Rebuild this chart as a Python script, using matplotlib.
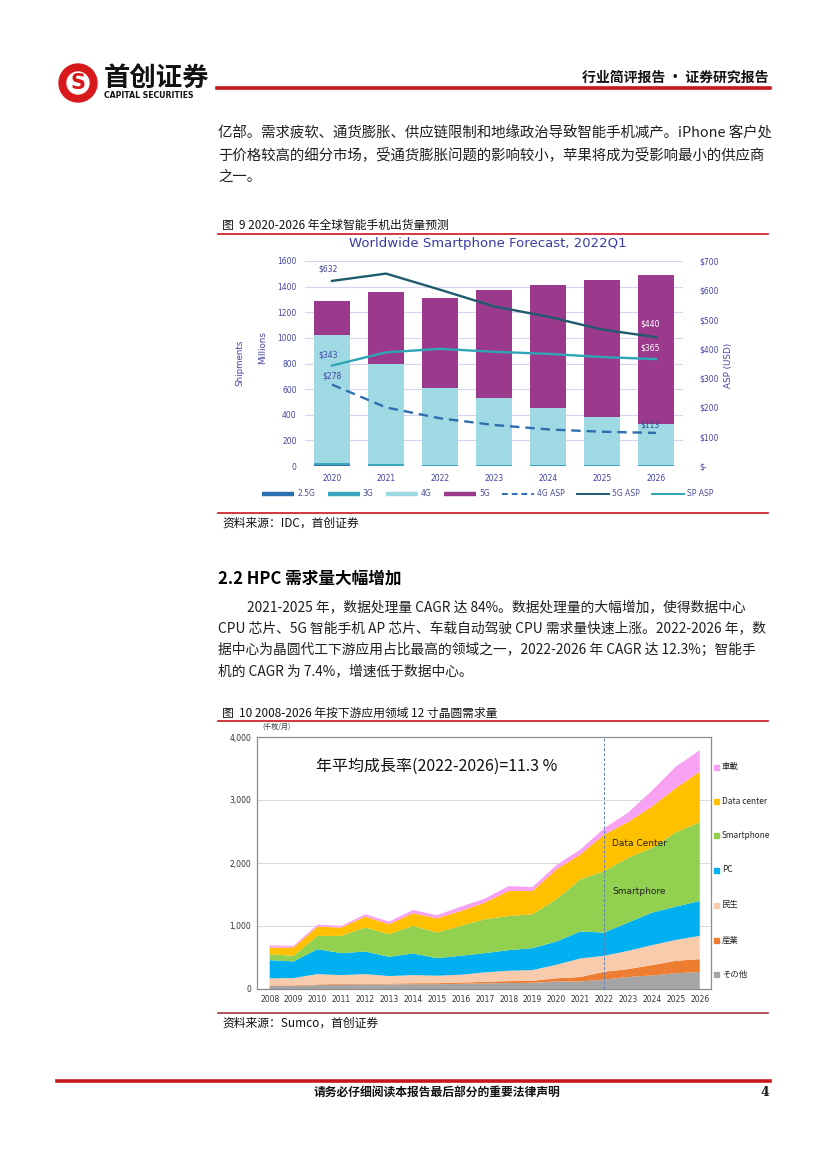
import matplotlib
matplotlib.use('Agg')
import matplotlib.pyplot as plt
from matplotlib.patches import Rectangle, Ellipse
from matplotlib.lines import Line2D

W, H = 827, 1169
CJK = ['Noto Sans CJK SC', 'DejaVu Sans']
JP = ['Noto Sans CJK JP', 'DejaVu Sans']
plt.rcParams['font.family'] = CJK

# ---------------- chart 1 data (IDC) ----------------
years1 = ['2020', '2021', '2022', '2023', '2024', '2025', '2026']
ship_25g = [5, 3, 2, 1, 1, 1, 1]
ship_3g = [18, 12, 9, 6, 5, 4, 4]
ship_4g = [997, 782, 596, 521, 449, 374, 324]
ship_5g = [264, 560, 703, 845, 957, 1074, 1163]
asp_4g = [278, 200, 163, 140, 125, 117, 113]
asp_5g = [632, 657, 602, 545, 510, 466, 440]
asp_sp = [343, 388, 400, 390, 383, 372, 365]
ship_ticks = [0, 200, 400, 600, 800, 1000, 1200, 1400, 1600]
asp_ticks = [0, 100, 200, 300, 400, 500, 600, 700]
asp_ticklabels = ['$-', '$100', '$200', '$300', '$400', '$500', '$600', '$700']
legend1 = ['2.5G', '3G', '4G', '5G', '4G ASP', '5G ASP', 'SP ASP']

# ---------------- chart 2 data (Sumco) ----------------
years2 = list(range(2008, 2027))
w_other = [50, 50, 62, 70, 72, 72, 76, 76, 82, 90, 95, 98, 120, 120, 150, 190, 215, 250, 270]
w_industry = [8, 8, 10, 12, 14, 14, 16, 16, 20, 24, 30, 32, 50, 70, 124, 126, 164, 198, 204]
w_consumer = [111, 116, 165, 139, 151, 119, 129, 119, 125, 150, 165, 170, 215, 295, 253, 290, 317, 332, 369]
w_pc = [289, 263, 395, 348, 358, 306, 343, 279, 300, 305, 327, 348, 369, 427, 369, 448, 516, 527, 554]
w_phone = [95, 90, 211, 274, 380, 359, 437, 406, 474, 538, 542, 538, 669, 827, 975, 1028, 1028, 1180, 1249]
w_dc = [106, 132, 147, 132, 174, 158, 201, 226, 237, 263, 396, 369, 474, 395, 580, 568, 657, 703, 804]
w_auto = [31, 26, 32, 26, 37, 42, 52, 48, 69, 63, 79, 63, 69, 79, 99, 150, 253, 340, 340]
labels2 = ['その他', '産業', '民生', 'PC', 'Smartphone', 'Data center', '車載']
wafer_ticks = [0, 1000, 2000, 3000, 4000]
wafer_ticklabels = ['0', '1,000', '2,000', '3,000', '4,000']

fig = plt.figure(figsize=(8.27, 11.69), dpi=100)


def fx(x):
    return x / W


def fy(y):
    return 1 - y / H


def hline(x0, x1, y, lw, color):
    fig.add_artist(Line2D([fx(x0), fx(x1)], [fy(y), fy(y)], lw=lw, color=color,
                          transform=fig.transFigure))


def txt(x, y, s, **kw):
    kw.setdefault('va', 'center')
    kw.setdefault('family', CJK)
    fig.text(fx(x), fy(y), s, **kw)


RED = '#C8161D'
BODY = '#1e1e1e'

# ---------------- header ----------------
fig.add_artist(Ellipse((fx(78), fy(83)), 38 / W, 38 / H, color='#D7191C', transform=fig.transFigure))
fig.add_artist(Ellipse((fx(78), fy(83)), 22 / W, 22 / H, color='white', transform=fig.transFigure))
txt(78, 83, 'S', ha='center', fontsize=15, weight='bold', color='#D7191C', family=['DejaVu Sans'])
txt(104, 78, '首创证券', fontsize=19, weight='bold', color='#111111')
txt(104, 95, 'CAPITAL SECURITIES', fontsize=5.6, weight='bold', color='#111111', family=['DejaVu Sans'])
hline(217, 770, 88, 2.6, RED)
txt(768, 78, '行业简评报告 · 证券研究报告', ha='right', fontsize=10, weight='bold', color='#111111')

# ---------------- paragraph 1 ----------------
para1 = ['亿部。需求疲软、通货膨胀、供应链限制和地缘政治导致智能手机减产。iPhone 客户处',
         '于价格较高的细分市场，受通货膨胀问题的影响较小，苹果将成为受影响最小的供应商',
         '之一。']
for i, line in enumerate(para1):
    txt(218, 133 + 22 * i, line, fontsize=10.4, color=BODY)

# ---------------- caption 1 ----------------
txt(222, 225, '图  9 2020-2026 年全球智能手机出货量预测', fontsize=8.5, color='#111111')
hline(218, 768, 234, 1.2, RED)

# ---------------- chart 1 ----------------
IND = '#4343A3'
ax = fig.add_axes([fx(305), fy(466), 378 / W, 205 / H])
x1 = list(range(len(years1)))
b1 = ship_25g
b2 = [a + b for a, b in zip(b1, ship_3g)]
b3 = [a + b for a, b in zip(b2, ship_4g)]
ax.bar(x1, ship_25g, width=0.65, color='#2E6FB0', zorder=2)
ax.bar(x1, ship_3g, width=0.65, bottom=b1, color='#3AA7BE', zorder=2)
ax.bar(x1, ship_4g, width=0.65, bottom=b2, color='#9FD9E4', zorder=2)
ax.bar(x1, ship_5g, width=0.65, bottom=b3, color='#9B3A8C', zorder=2)
ax.set_xlim(-0.5, 6.5)
ax.set_ylim(0, 1600)
ax.set_yticks(ship_ticks)
ax.set_yticklabels([str(t) for t in ship_ticks])
ax.set_xticks(x1)
ax.set_xticklabels(years1)
ax.yaxis.grid(True, color='#D4D4EE', lw=0.8)
ax.set_axisbelow(True)
for s in ax.spines.values():
    s.set_visible(False)
ax.tick_params(length=0, labelsize=5.5, colors=IND, pad=6)
for t in ax.get_xticklabels() + ax.get_yticklabels():
    t.set_family(['DejaVu Sans'])

ax2 = ax.twinx()
ax2.set_ylim(0, 700)
ax2.set_yticks(asp_ticks)
ax2.set_yticklabels(asp_ticklabels)
for s in ax2.spines.values():
    s.set_visible(False)
ax2.tick_params(length=0, labelsize=5.5, colors=IND, pad=12)
for t in ax2.get_yticklabels():
    t.set_family(['DejaVu Sans'])
l4, = ax2.plot(x1, asp_4g, color='#2C6EAE', lw=1.7, dashes=(4, 2.5), zorder=3)
l5, = ax2.plot(x1, asp_5g, color='#1F5B6C', lw=1.7, zorder=3)
lsp, = ax2.plot(x1, asp_sp, color='#2FA5B7', lw=1.7, zorder=3)

ann = dict(textcoords='offset points', ha='center', fontsize=5.5, family=['DejaVu Sans'])
ax2.annotate(f'${asp_5g[0]}', xy=(0, asp_5g[0]), xytext=(-3, 7), color=IND, **ann)
ax2.annotate(f'${asp_sp[0]}', xy=(0, asp_sp[0]), xytext=(-3, 6), color=IND, **ann)
ax2.annotate(f'${asp_4g[0]}', xy=(0, asp_4g[0]), xytext=(0, 4.5), color=IND, **ann)
ax2.annotate(f'${asp_5g[-1]}', xy=(6, asp_5g[-1]), xytext=(-4, 7.5), color='white', **ann)
ax2.annotate(f'${asp_sp[-1]}', xy=(6, asp_sp[-1]), xytext=(-4, 6), color='white', **ann)
ax2.annotate(f'${asp_4g[-1]}', xy=(6, asp_4g[-1]), xytext=(-4, 4), color='#2C4F8E', **ann)

fig.text(fx(240), fy(363), 'Shipments', rotation=90, ha='center', va='center', fontsize=6.3,
         color=IND, family=['DejaVu Sans'])
fig.text(fx(263), fy(348), 'Millions', rotation=90, ha='center', va='center', fontsize=6.3,
         color=IND, family=['DejaVu Sans'])
fig.text(fx(729), fy(365), 'ASP (USD)', rotation=90, ha='center', va='center', fontsize=6.3,
         color=IND, family=['DejaVu Sans'])
fig.text(fx(488), fy(243), 'Worldwide Smartphone Forecast, 2022Q1', ha='center', va='center',
         fontsize=9.5, color='#3A3AA6', family=['DejaVu Sans'])

handles = [Line2D([], [], color='#2E6FB0', lw=3.2, solid_capstyle='butt'),
           Line2D([], [], color='#3AA7BE', lw=3.2, solid_capstyle='butt'),
           Line2D([], [], color='#9FD9E4', lw=3.2, solid_capstyle='butt'),
           Line2D([], [], color='#9B3A8C', lw=3.2, solid_capstyle='butt'),
           Line2D([], [], color='#2C6EAE', lw=1.4, dashes=(3, 2)),
           Line2D([], [], color='#1F5B6C', lw=1.4),
           Line2D([], [], color='#2FA5B7', lw=1.4)]
leg = fig.legend(handles, legend1, loc='center', bbox_to_anchor=(fx(488), fy(494)), ncol=7,
                 frameon=False, fontsize=5.5, handlelength=4.2, columnspacing=1.6,
                 handletextpad=0.4, labelcolor='#4a4a9a', prop={'family': ['DejaVu Sans'], 'size': 5.5})

# ---------------- source 1 ----------------
hline(218, 768, 513, 1.2, RED)
txt(222, 523, '资料来源：IDC，首创证券', fontsize=8.5, color='#111111', style='italic')

# ---------------- heading + paragraph 2 ----------------
txt(218, 579, '2.2 HPC 需求量大幅增加', fontsize=12, weight='bold', color='#000000')
para2 = ['2021-2025 年，数据处理量 CAGR 达 84%。数据处理量的大幅增加，使得数据中心',
         'CPU 芯片、5G 智能手机 AP 芯片、车载自动驾驶 CPU 需求量快速上涨。2022-2026 年，数',
         '据中心为晶圆代工下游应用占比最高的领域之一，2022-2026 年 CAGR 达 12.3%；智能手',
         '机的 CAGR 为 7.4%，增速低于数据中心。']
for i, line in enumerate(para2):
    txt(247 if i == 0 else 218, 607 + 21.5 * i, line, fontsize=9.9, color=BODY)

# ---------------- caption 2 ----------------
txt(222, 713, '图  10 2008-2026 年按下游应用领域 12 寸晶圆需求量', fontsize=8.5, color='#111111')
hline(218, 768, 721, 1.2, RED)

# ---------------- chart 2 ----------------
colors2 = ['#A5A5A5', '#ED7D31', '#F8CBAD', '#00B0F0', '#92D050', '#FFC000', '#F7A1F2']
bx = fig.add_axes([fx(257), fy(989), 454 / W, 252 / H])
bx.stackplot(years2, w_other, w_industry, w_consumer, w_pc, w_phone, w_dc, w_auto,
             colors=colors2, lw=0, zorder=2)
bx.set_xlim(2007.47, 2026.47)
bx.set_ylim(0, 4000)
bx.set_xticks(years2)
bx.set_xticklabels([str(y) for y in years2])
bx.set_yticks(wafer_ticks)
bx.set_yticklabels(wafer_ticklabels)
bx.tick_params(length=0, labelsize=5.5, colors='#333333', pad=4)
for t in bx.get_xticklabels() + bx.get_yticklabels():
    t.set_family(['DejaVu Sans'])
bx.yaxis.grid(True, color='#D9D9D9', lw=0.7)
bx.set_axisbelow(True)
for s in bx.spines.values():
    s.set_color('#8C8C8C')
    s.set_linewidth(0.9)
bx.axvline(2022, color='#5F7FB8', lw=0.7, dashes=(3, 2), zorder=3)

txt(316, 766, '年平均成長率(2022-2026)=11.3 %', fontsize=11.5, color='#111111', family=JP)
txt(612, 843, 'Data Center', fontsize=6.5, color='#222222', family=['DejaVu Sans'])
txt(612, 891, 'Smartphore', fontsize=6.5, color='#222222', family=['DejaVu Sans'])
txt(262, 727, '(千枚/月)', fontsize=5, color='#333333', family=JP)

leg_y = [974, 940, 905, 870, 835, 801, 767]
for lab, col, yy in zip(labels2, colors2, leg_y):
    fig.add_artist(Rectangle((fx(714), fy(yy) - 2.5 / H), 5 / W, 5 / H, color=col,
                             transform=fig.transFigure))
    txt(722, yy, lab, fontsize=6, color='#222222', family=JP)

# ---------------- source 2 ----------------
hline(218, 768, 1013, 1.2, '#A0363A')
txt(222, 1023, '资料来源：Sumco，首创证券', fontsize=8.5, color='#111111', style='italic')

# ---------------- footer ----------------
hline(57, 770, 1081, 2.6, RED)
txt(437, 1093, '请务必仔细阅读本报告最后部分的重要法律声明', ha='center', fontsize=8.5,
    weight='bold', color='#111111')
txt(765, 1093, '4', ha='center', fontsize=9, weight='bold', color='#111111', family=['DejaVu Serif'])

fig.savefig('out.png', dpi=100)
